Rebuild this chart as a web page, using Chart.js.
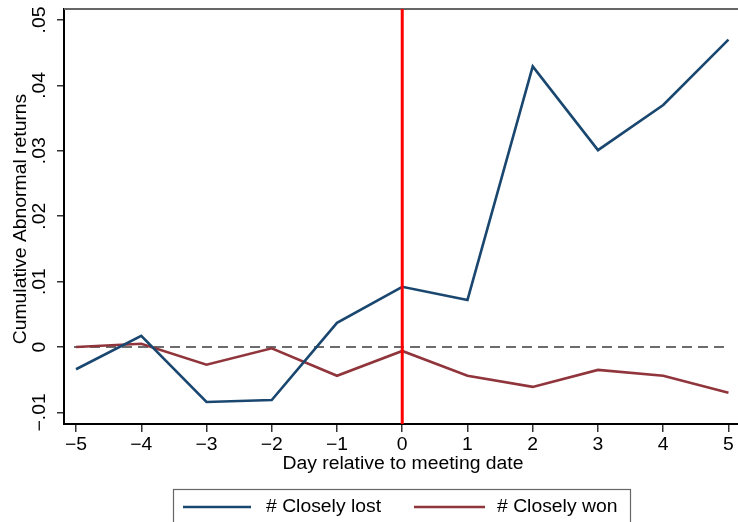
<!DOCTYPE html>
<html>
<head>
<meta charset="utf-8">
<script src="https://cdn.jsdelivr.net/npm/chart.js@4/dist/chart.umd.min.js"></script>
<style>
  html, body { margin: 0; padding: 0; background: #ffffff; }
  #wrap { width: 738px; height: 522px; position: relative; }
</style>
</head>
<body>
<div id="wrap"><canvas id="c" width="738" height="522"></canvas></div>
<script>
// Event-study window (days relative to the meeting)
const days = [-5, -4, -3, -2, -1, 0, 1, 2, 3, 4, 5];
// Cumulative abnormal returns by group
const closelyLost = [-0.0034, 0.0017, -0.0084, -0.0081, 0.0037, 0.0092, 0.0072, 0.0429, 0.0301, 0.0370, 0.0470];
const closelyWon  = [0.0000, 0.0005, -0.0027, -0.0002, -0.0044, -0.0006, -0.0044, -0.0061, -0.0035, -0.0044, -0.0070];
const seriesNames = ['# Closely lost', '# Closely won'];

// Axis ticks and their labels
const xTickValues = [-5, -4, -3, -2, -1, 0, 1, 2, 3, 4, 5];
const xTickLabels = ['\u22125', '\u22124', '\u22123', '\u22122', '\u22121', '0', '1', '2', '3', '4', '5'];
const yTickValues = [-0.01, 0, 0.01, 0.02, 0.03, 0.04, 0.05];
const yTickLabels = ['\u2212.01', '0', '.01', '.02', '.03', '.04', '.05'];
const axisTitles = { x: 'Day relative to meeting date', y: 'Cumulative Abnormal returns' };

// Reference lines: event day and zero return
const eventDay = 0;
const zeroLine = 0;

const FONT = '18px "Liberation Sans", Arial, sans-serif';
const STRETCH = 1.075; // slightly wide lettering
const BLUE = '#1a476f';
const MAROON = '#90353b';

const pts = arr => days.map((d, i) => ({ x: d, y: arr[i] }));

// draw text with optional rotation and a horizontal stretch along the text direction
function label(ctx, text, x, y, align, rot) {
  ctx.save();
  ctx.translate(x, y);
  if (rot) ctx.rotate(rot);
  ctx.scale(STRETCH, 1);
  ctx.textAlign = align;
  ctx.fillText(text, 0, 0);
  ctx.restore();
}

const decor = {
  id: 'decor',
  beforeDatasetsDraw(chart) {
    const { ctx, chartArea: a, scales: { y } } = chart;
    const py = y.getPixelForValue(zeroLine);
    ctx.save();
    ctx.strokeStyle = '#3c3c3c';
    ctx.lineWidth = 1.5;
    ctx.setLineDash([10, 6]);
    ctx.beginPath();
    ctx.moveTo(a.left + 10, py);
    ctx.lineTo(a.right - 8, py);
    ctx.stroke();
    ctx.restore();
  },
  afterDatasetsDraw(chart) {
    const { ctx, chartArea: a, scales: { x } } = chart;
    ctx.save();
    // plot-region top edge
    ctx.strokeStyle = '#666666';
    ctx.lineWidth = 2;
    ctx.beginPath();
    ctx.moveTo(a.left, a.top);
    ctx.lineTo(chart.width, a.top);
    ctx.stroke();
    // event-day marker
    const px = x.getPixelForValue(eventDay);
    ctx.strokeStyle = '#ff0000';
    ctx.lineWidth = 3;
    ctx.beginPath();
    ctx.moveTo(px, a.top);
    ctx.lineTo(px, a.bottom);
    ctx.stroke();
    ctx.restore();
  },
  afterDraw(chart) {
    const { ctx, chartArea: a, scales: { x, y } } = chart;
    ctx.save();
    ctx.fillStyle = '#000000';
    ctx.font = FONT;
    ctx.textBaseline = 'alphabetic';
    // x tick labels
    xTickValues.forEach((v, i) => {
      label(ctx, xTickLabels[i], x.getPixelForValue(v), 450, 'center');
    });
    // x title
    label(ctx, axisTitles.x, (a.left + a.right) / 2 + 2, 469, 'center');
    // y tick labels (rotated)
    yTickValues.forEach((v, i) => {
      label(ctx, yTickLabels[i], 45, y.getPixelForValue(v), 'center', -Math.PI / 2);
    });
    // y title
    label(ctx, axisTitles.y, 26, 219, 'center', -Math.PI / 2);

    // legend box
    ctx.strokeStyle = '#666666';
    ctx.lineWidth = 1.2;
    ctx.strokeRect(173.5, 489.5, 457, 60);
    const keys = [
      { x0: 183, x1: 251, tx: 266, color: BLUE, label: chart.data.datasets[0].label },
      { x0: 414, x1: 485, tx: 497, color: MAROON, label: chart.data.datasets[1].label }
    ];
    keys.forEach(k => {
      ctx.strokeStyle = k.color;
      ctx.lineWidth = 2.5;
      ctx.beginPath();
      ctx.moveTo(k.x0, 507);
      ctx.lineTo(k.x1, 507);
      ctx.stroke();
      label(ctx, k.label, k.tx, 512, 'left');
    });
    ctx.restore();
  }
};

new Chart(document.getElementById('c'), {
  type: 'line',
  data: {
    datasets: [
      { label: seriesNames[0], data: pts(closelyLost), borderColor: BLUE, borderWidth: 2.6, pointRadius: 0, tension: 0, fill: false },
      { label: seriesNames[1], data: pts(closelyWon), borderColor: MAROON, borderWidth: 2.6, pointRadius: 0, tension: 0, fill: false }
    ]
  },
  options: {
    responsive: false,
    animation: false,
    layout: { padding: { top: 9, left: 0, right: 0, bottom: 0 } },
    plugins: { legend: { display: false }, tooltip: { enabled: false } },
    scales: {
      x: {
        type: 'linear',
        min: -5.184,
        max: 5.146,
        afterFit: s => { s.height = 98; },
        afterBuildTicks: s => { s.ticks = xTickValues.map(v => ({ value: v })); },
        ticks: { display: false },
        grid: { drawOnChartArea: false, drawTicks: true, tickLength: 8, color: '#333333', lineWidth: 1.5 },
        border: { display: true, color: '#000000', width: 2 }
      },
      y: {
        type: 'linear',
        min: -0.011774,
        max: 0.05168,
        afterFit: s => { s.width = 64; },
        afterBuildTicks: s => { s.ticks = yTickValues.map(v => ({ value: v })); },
        ticks: { display: false },
        grid: { drawOnChartArea: false, drawTicks: true, tickLength: 7, color: '#333333', lineWidth: 1.5 },
        border: { display: true, color: '#000000', width: 2 }
      }
    }
  },
  plugins: [decor]
});
</script>
</body>
</html>
